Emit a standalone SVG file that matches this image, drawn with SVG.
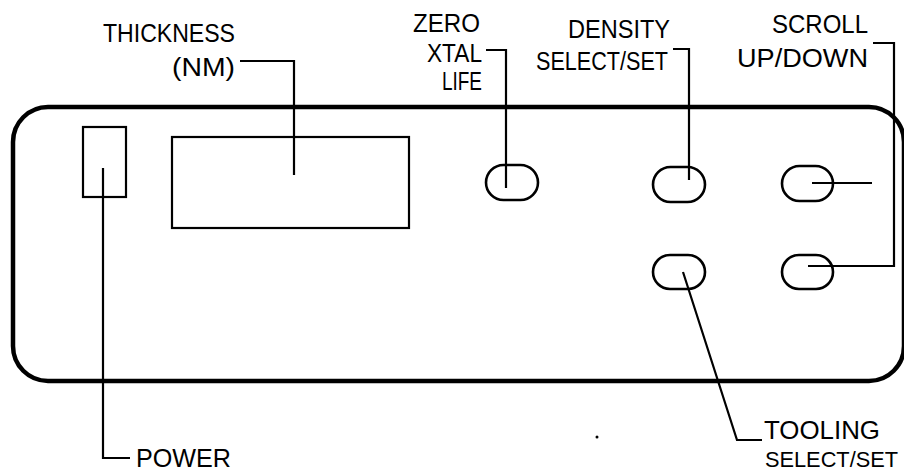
<svg xmlns="http://www.w3.org/2000/svg" width="904" height="474" viewBox="0 0 904 474">
<style>
.lbl{font-family:"Liberation Sans",Arial,sans-serif;font-size:25px;fill:#000}
.ldr{fill:none;stroke:#000;stroke-width:2.2}
.btn{fill:#fff;stroke:#000;stroke-width:2.6}
.box{fill:#fff;stroke:#000;stroke-width:2.2}
</style>
<rect width="904" height="474" fill="#fff"/>
<g id="panel">
<rect x="13" y="107" width="891" height="274" rx="35" ry="35" fill="none" stroke="#000" stroke-width="4.5"/>
</g>
<g id="power-switch"><rect class="box" x="83" y="127" width="43" height="70"/></g>
<g id="display"><rect class="box" x="172" y="137" width="237" height="91"/></g>
<g id="btn-zero"><rect class="btn" x="486" y="165" width="52" height="35" rx="17.5"/></g>
<g id="btn-density"><rect class="btn" x="653" y="167" width="52" height="35" rx="17.5"/></g>
<g id="btn-scroll-up"><rect class="btn" x="782" y="166" width="51" height="35" rx="17.5"/></g>
<g id="btn-tooling"><rect class="btn" x="653" y="255" width="52" height="34" rx="17"/></g>
<g id="btn-scroll-down"><rect class="btn" x="782" y="255" width="51" height="34" rx="17"/></g>
<g id="connectors">
<path class="ldr" d="M240 61 H294 V175"/>
<path class="ldr" d="M486 50 H506 V188"/>
<path class="ldr" d="M673 49 H689 V180"/>
<path class="ldr" d="M873 43 H894 V266 H808"/>
<path class="ldr" d="M812 183 H872"/>
<path class="ldr" d="M683 272 L737 440 H762"/>
<path class="ldr" d="M103 168 V458 H130"/>
</g>
<g id="labels">
<text class="lbl" x="103" y="42" textLength="132" lengthAdjust="spacingAndGlyphs">THICKNESS</text>
<text class="lbl" x="172" y="76" textLength="63" lengthAdjust="spacingAndGlyphs">(NM)</text>
<text class="lbl" x="413" y="32" textLength="67" lengthAdjust="spacingAndGlyphs">ZERO</text>
<text class="lbl" x="427" y="62" textLength="55" lengthAdjust="spacingAndGlyphs">XTAL</text>
<text class="lbl" x="442" y="90" textLength="40" lengthAdjust="spacingAndGlyphs">LIFE</text>
<text class="lbl" x="568" y="38" textLength="102" lengthAdjust="spacingAndGlyphs">DENSITY</text>
<text class="lbl" x="536" y="70" textLength="132" lengthAdjust="spacingAndGlyphs">SELECT/SET</text>
<text class="lbl" x="772" y="33" textLength="96" lengthAdjust="spacingAndGlyphs">SCROLL</text>
<text class="lbl" x="737" y="67" textLength="131" lengthAdjust="spacingAndGlyphs">UP/DOWN</text>
<text class="lbl" x="136" y="467" textLength="95" lengthAdjust="spacingAndGlyphs">POWER</text>
<text class="lbl" x="764" y="439" textLength="116" lengthAdjust="spacingAndGlyphs">TOOLING</text>
<text class="lbl" x="765" y="467" style="font-size:22px" textLength="133" lengthAdjust="spacingAndGlyphs">SELECT/SET</text>
</g>
<circle cx="597" cy="437" r="1.5" fill="#000"/>
</svg>
